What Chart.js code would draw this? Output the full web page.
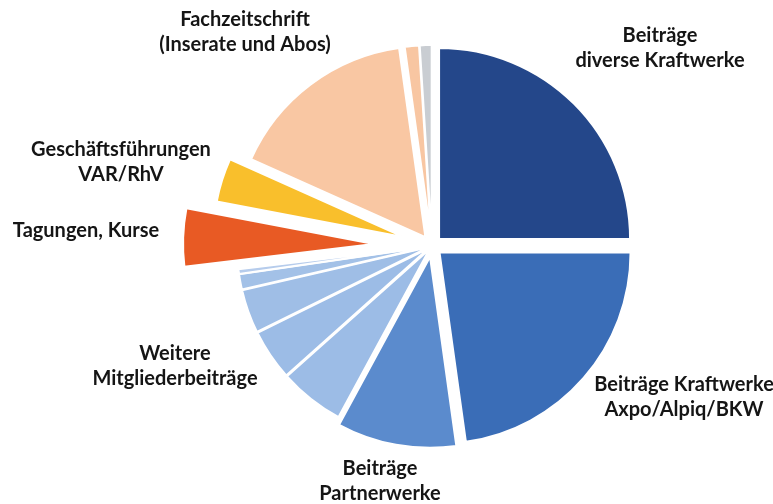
<!DOCTYPE html>
<html>
<head>
<meta charset="utf-8">
<script src="https://cdn.jsdelivr.net/npm/chart.js@4.4.1/dist/chart.umd.min.js"></script>
<style>
  html, body { margin: 0; padding: 0; background: #ffffff; }
  #wrap { width: 773px; height: 504px; position: relative; }
</style>
</head>
<body>
<div id="wrap"><canvas id="c" width="773" height="504"></canvas></div>
<script>
// ---- data (% of total) ----
const categories = [
  'Beiträge diverse Kraftwerke',
  'Beiträge Kraftwerke Axpo/Alpiq/BKW',
  'Beiträge Partnerwerke',
  'Weitere Mitgliederbeiträge A',
  'Weitere Mitgliederbeiträge B',
  'Weitere Mitgliederbeiträge C',
  'Weitere Mitgliederbeiträge D',
  'Weitere Mitgliederbeiträge E',
  'Tagungen, Kurse',
  'Geschäftsführungen VAR/RhV',
  'Fachzeitschrift (Inserate und Abos)',
  'Übrige A',
  'Übrige B'
];
const shares = [25.0, 22.8, 10.1, 5.5, 4.3, 3.7, 1.3, 0.4, 4.9, 3.7, 16.1, 1.2, 1.0];

// text labels shown around the pie
const labelTexts = [
  ['Beiträge', 'diverse Kraftwerke'],
  ['Beiträge Kraftwerke', 'Axpo/Alpiq/BKW'],
  ['Beiträge', 'Partnerwerke'],
  ['Weitere', 'Mitgliederbeiträge'],
  ['Tagungen, Kurse'],
  ['Geschäftsführungen', 'VAR/RhV'],
  ['Fachzeitschrift', '(Inserate und Abos)']
];

// ---- styles ----
const colors = ['#24478a', '#3a6db7', '#5b8bcd', '#9cbce6', '#9cbce6', '#9fbee6', '#a3c1e7', '#b6ccec',
                '#e85a24', '#f9bf2c', '#f9c7a3', '#f8c6a2', '#c9cdd2'];
// explosion distance of each slice, px
const explode = [10, 10, 11, 4, 4, 4, 4, 4, 58, 29, 11, 10, 10];
const labelPos = [
  [660, 36], [684, 385], [380, 469], [175, 354], [86, 231], [121, 150], [245, 20]
];

// draw each arc shifted outward along its bisector (exploded pie)
const explodedArcs = {
  id: 'explodedArcs',
  beforeDatasetDraw(chart, args) {
    const ctx = chart.ctx;
    args.meta.data.forEach((arc, i) => {
      const d = explode[i] || 0;
      const mid = (arc.startAngle + arc.endAngle) / 2;
      ctx.save();
      ctx.translate(Math.cos(mid) * d, Math.sin(mid) * d);
      arc.draw(ctx, chart.chartArea);
      ctx.restore();
    });
    return false;
  }
};

const textLabels = {
  id: 'textLabels',
  afterDraw(chart) {
    const ctx = chart.ctx;
    ctx.save();
    ctx.fillStyle = '#151515';
    ctx.font = 'bold 20px Lato';
    ctx.textAlign = 'center';
    ctx.textBaseline = 'middle';
    labelTexts.forEach((lines, i) => {
      const [x, y] = labelPos[i];
      lines.forEach((t, j) => ctx.fillText(t, x, y + j * 25));
    });
    ctx.restore();
  }
};

new Chart(document.getElementById('c'), {
  type: 'pie',
  data: {
    labels: categories,
    datasets: [{
      data: shares,
      backgroundColor: colors,
      borderColor: '#ffffff',
      borderWidth: 2,
      radius: 191
    }]
  },
  options: {
    responsive: false,
    animation: false,
    layout: { padding: { left: 91, right: 0, top: 0, bottom: 12 } },
    plugins: {
      legend: { display: false },
      tooltip: { enabled: false }
    }
  },
  plugins: [explodedArcs, textLabels]
});
</script>
</body>
</html>
